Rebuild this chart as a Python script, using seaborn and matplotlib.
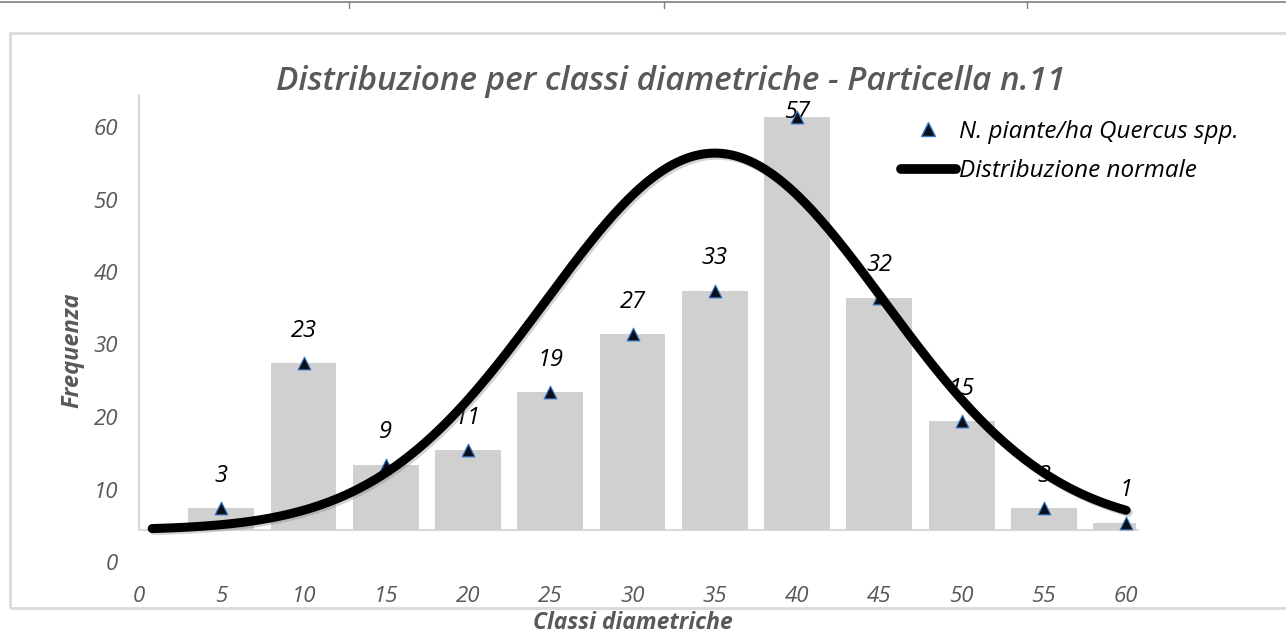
import numpy as np
import matplotlib
matplotlib.use("Agg")
import matplotlib.pyplot as plt
import matplotlib.patheffects as pe
from matplotlib.lines import Line2D
from matplotlib.patches import Rectangle
import seaborn as sns

# ---- data ----
classes = [5, 10, 15, 20, 25, 30, 35, 40, 45, 50, 55, 60]
counts = [3, 23, 9, 11, 19, 27, 33, 57, 32, 15, 3, 1]
y_ticks = [0, 10, 20, 30, 40, 50, 60]
x_ticks = [0, 5, 10, 15, 20, 25, 30, 35, 40, 45, 50, 55, 60]
# normal curve parameters (in count units)
norm_mean = 35.0
norm_sd = 10.3
norm_peak = 52.0
norm_x_start = 0.8
norm_x_end = 60.0

title = "Distribuzione per classi diametriche - Particella n.11"
xlabel = "Classi diametriche"
ylabel = "Frequenza"
leg_points = "N. piante/ha Quercus spp."
leg_curve = "Distribuzione normale"

sns.set_style("white")
plt.rcParams["font.family"] = ["Open Sans", "DejaVu Sans"]

W, H = 1286, 634
fig = plt.figure(figsize=(W / 100, H / 100), dpi=100)

# pixel layout
x0_px, x1_px = 139, 1136
y0_px, ytop_px = 562, 95          # y value 0 and axis top
px_per_unit = 7.25
y_top = (y0_px - ytop_px) / px_per_unit
base = 4.4                          # bar baseline in axis units
x_max = 60.6

ax = fig.add_axes([x0_px / W, 1 - y0_px / H, (x1_px - x0_px) / W, (y0_px - ytop_px) / H])
ax.set_xlim(0, x_max)
ax.set_ylim(0, y_top)
for s in ax.spines.values():
    s.set_visible(False)
ax.set_yticks(y_ticks)
ax.set_xticks(x_ticks)
grey = "#595959"
ax.tick_params(axis="y", length=0, pad=15, labelsize=16, labelcolor=grey)
ax.tick_params(axis="x", length=0, pad=17, labelsize=16, labelcolor=grey)
for lab in ax.get_xticklabels() + ax.get_yticklabels():
    lab.set_fontstyle("italic")
ax.grid(False)

# axis lines
ax.plot([0, 0], [base, y_top], color="#d9d9d9", lw=1.5, clip_on=False, zorder=1)
ax.plot([0, x_max + 0.1], [base, base], color="#d9d9d9", lw=1.5, clip_on=False, zorder=1)

# twin axis in count units (count 0 at bar baseline)
ax2 = ax.twinx()
for s in ax2.spines.values():
    s.set_visible(False)

sns.barplot(x=classes, y=counts, native_scale=True, ax=ax2, color="#d0d0d0",
            saturation=1, width=0.8, linewidth=0, zorder=2)
ax2.set_xlim(0, x_max)
ax2.set_ylim(-base, y_top - base)
ax2.set_xlabel("")
ax2.set_ylabel("")
ax2.set_yticks([])

sns.scatterplot(x=classes, y=counts, ax=ax2, marker="^", s=85, color="#0b0f1a",
                edgecolor="#3d7cc9", linewidth=0.8, zorder=4, clip_on=False)

label_cap = y_top - base - 2.3
for xc, c in zip(classes, counts):
    ax2.text(xc, min(c + 4.5, label_cap), str(c), ha="center", va="center",
             fontsize=17, fontstyle="italic", color="black", zorder=3)

xs = np.linspace(norm_x_start, norm_x_end, 400)
ys = norm_peak * np.exp(-((xs - norm_mean) ** 2) / (2 * norm_sd ** 2))
sns.lineplot(x=xs, y=ys, ax=ax2, color="black", lw=6.5, zorder=5, sort=False,
             estimator=None)
line = ax2.get_lines()[-1]
line.set_solid_capstyle("round")
line.set_path_effects([pe.SimpleLineShadow(offset=(1.5, -1.5), shadow_color="gray", alpha=0.35),
                       pe.Normal()])
line.set_clip_on(False)

# legend
handles = [Line2D([], [], marker="^", color="#0b0f1a", markeredgecolor="#3d7cc9",
                  markersize=10, linestyle="none"),
           Line2D([], [], color="black", lw=7, solid_capstyle="round")]
leg = ax2.legend(handles, [leg_points, leg_curve], loc="upper left",
                 bbox_to_anchor=(901 / W, 1 - 120 / H), bbox_transform=fig.transFigure,
                 frameon=False, handlelength=2.25, handletextpad=0.12, borderpad=0,
                 labelspacing=0.62, prop={"size": 17.5, "style": "italic"}, borderaxespad=0)
for t in leg.get_texts():
    t.set_color("black")

# titles / labels
fig.text(671 / W, 1 - 82 / H, title, ha="center", va="center", fontsize=24,
         fontstyle="italic", fontweight="semibold", color=grey)
fig.text(633 / W, 1 - 623 / H, xlabel, ha="center", va="center", fontsize=16.5,
         fontstyle="italic", fontweight="bold", color=grey)
fig.text(72 / W, 1 - 350 / H, ylabel, ha="center", va="center", fontsize=17,
         fontstyle="italic", fontweight="bold", color=grey, rotation=90)

# chart frame and table line
fig.patches.append(Rectangle((10 / W, 1 - 608 / H), (W + 10) / W, (608 - 33) / H,
                             transform=fig.transFigure, fill=False, edgecolor="#d9d9d9",
                             lw=2, zorder=0))
fig.lines.append(Line2D([0, 1], [1 - 2 / H, 1 - 2 / H], transform=fig.transFigure,
                        color="#7f7f7f", lw=1.2))
for xp in [349, 664, 1027]:
    fig.lines.append(Line2D([xp / W, xp / W], [1 - 2 / H, 1 - 8 / H],
                            transform=fig.transFigure, color="#7f7f7f", lw=1))

fig.savefig("out.png", dpi=100)
